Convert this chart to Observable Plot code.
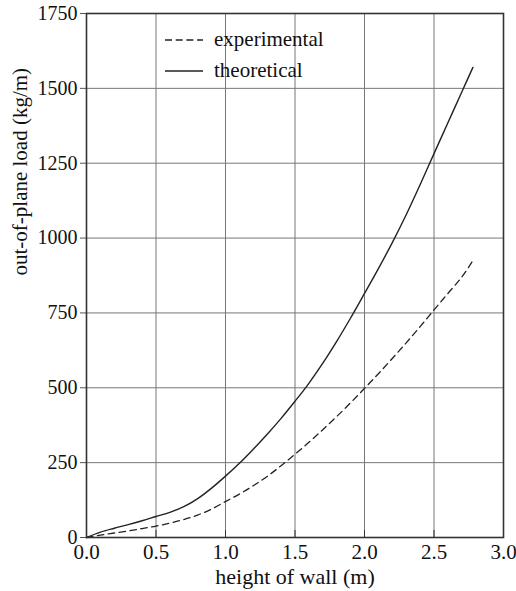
<!DOCTYPE html>
<html><head><meta charset="utf-8">
<script src="https://cdn.jsdelivr.net/npm/d3@7"></script>
<script src="https://cdn.jsdelivr.net/npm/@observablehq/plot@0.6"></script>
<style>
body{margin:0;background:#fff;}
#wrap{position:relative;width:516px;height:591px;font-family:"Liberation Serif","Times New Roman",serif;}
#wrap svg text{font-family:"Liberation Serif","Times New Roman",serif !important;}
#legend{position:absolute;left:165px;top:24px;font-size:21px;color:#111;}
#legend .row{display:flex;align-items:center;height:31px;}
#legend svg{margin-right:11px;}
</style></head>
<body><div id="wrap"><div id="legend"></div></div>
<script>
const heights = [0,0.1,0.2,0.3,0.4,0.5,0.6,0.7,0.8,0.9,1.0,1.1,1.2,1.3,1.4,1.5,1.6,1.7,1.8,1.9,2.0,2.1,2.2,2.3,2.4,2.5,2.6,2.7,2.78];
const theoretical = [0,18,31,43,56,70,84,103,130,165,205,248,295,345,398,455,515,582,655,733,815,898,985,1078,1178,1282,1385,1488,1570];
const experimental = [0,8,15,22,30,38,48,60,75,95,120,145,173,204,240,278,318,360,404,450,498,547,598,650,704,760,815,870,925];
const xTicks = [0,0.5,1.0,1.5,2.0,2.5,3.0];
const yTicks = [0,250,500,750,1000,1250,1500,1750];
const seriesNames = ["experimental","theoretical"];
const seriesDash = {experimental:"7,3.7", theoretical:null};

const SERIF = "Liberation Serif, Times New Roman, serif";
const rows = [];
heights.forEach((h,i)=>{
  rows.push({h, v: experimental[i], s: "experimental"});
  rows.push({h, v: theoretical[i], s: "theoretical"});
});

const chart = Plot.plot({
  width: 516, height: 591,
  marginLeft: 86, marginRight: 13, marginTop: 13, marginBottom: 54,
  style: {fontFamily: SERIF, fontSize: "20px", color: "#111", background: "#fff"},
  x: {domain: [0,3], label: null},
  y: {domain: [0,1750], label: null},
  marks: [
    Plot.gridX(xTicks, {stroke: "#777", strokeOpacity: 1, strokeWidth: 1}),
    Plot.gridY(yTicks, {stroke: "#777", strokeOpacity: 1, strokeWidth: 1}),
    Plot.axisX(xTicks, {tickSize: -7, tickPadding: 14, fontSize: 21, stroke: "#333", tickFormat: d => d.toFixed(1)}),
    Plot.axisY(yTicks, {tickSize: 6, tickPadding: 3, fontSize: 20, stroke: "#555", tickFormat: d => String(d)}),
    Plot.text(["height of wall (m)"], {frameAnchor: "bottom", dy: 46, fontSize: 22, fill: "#111"}),
    Plot.text(["out-of-plane load (kg/m)"], {frameAnchor: "left", dx: -66, rotate: -90, fontSize: 21, fill: "#111"}),
    Plot.line(rows.filter(d=>d.s==="experimental"), {x: "h", y: "v", stroke: "#222", strokeWidth: 1.3, strokeDasharray: "6.5,4.5", curve: "catmull-rom"}),
    Plot.line(rows.filter(d=>d.s==="theoretical"), {x: "h", y: "v", stroke: "#222", strokeWidth: 1.4, curve: "catmull-rom"}),
    Plot.frame({stroke: "#333", strokeWidth: 1.6})
  ]
});
document.getElementById("wrap").prepend(chart);
chart.style.position = "absolute"; chart.style.left = "0"; chart.style.top = "0";

const lg = document.getElementById("legend");
seriesNames.forEach(name => {
  const row = document.createElement("div"); row.className = "row";
  const dash = seriesDash[name] ? `stroke-dasharray="${seriesDash[name]}"` : "";
  row.innerHTML = `<svg width="38" height="10"><line x1="0" y1="5" x2="38" y2="5" stroke="#222" stroke-width="1.3" ${dash}/></svg><span>${name}</span>`;
  lg.appendChild(row);
});
</script></body></html>
